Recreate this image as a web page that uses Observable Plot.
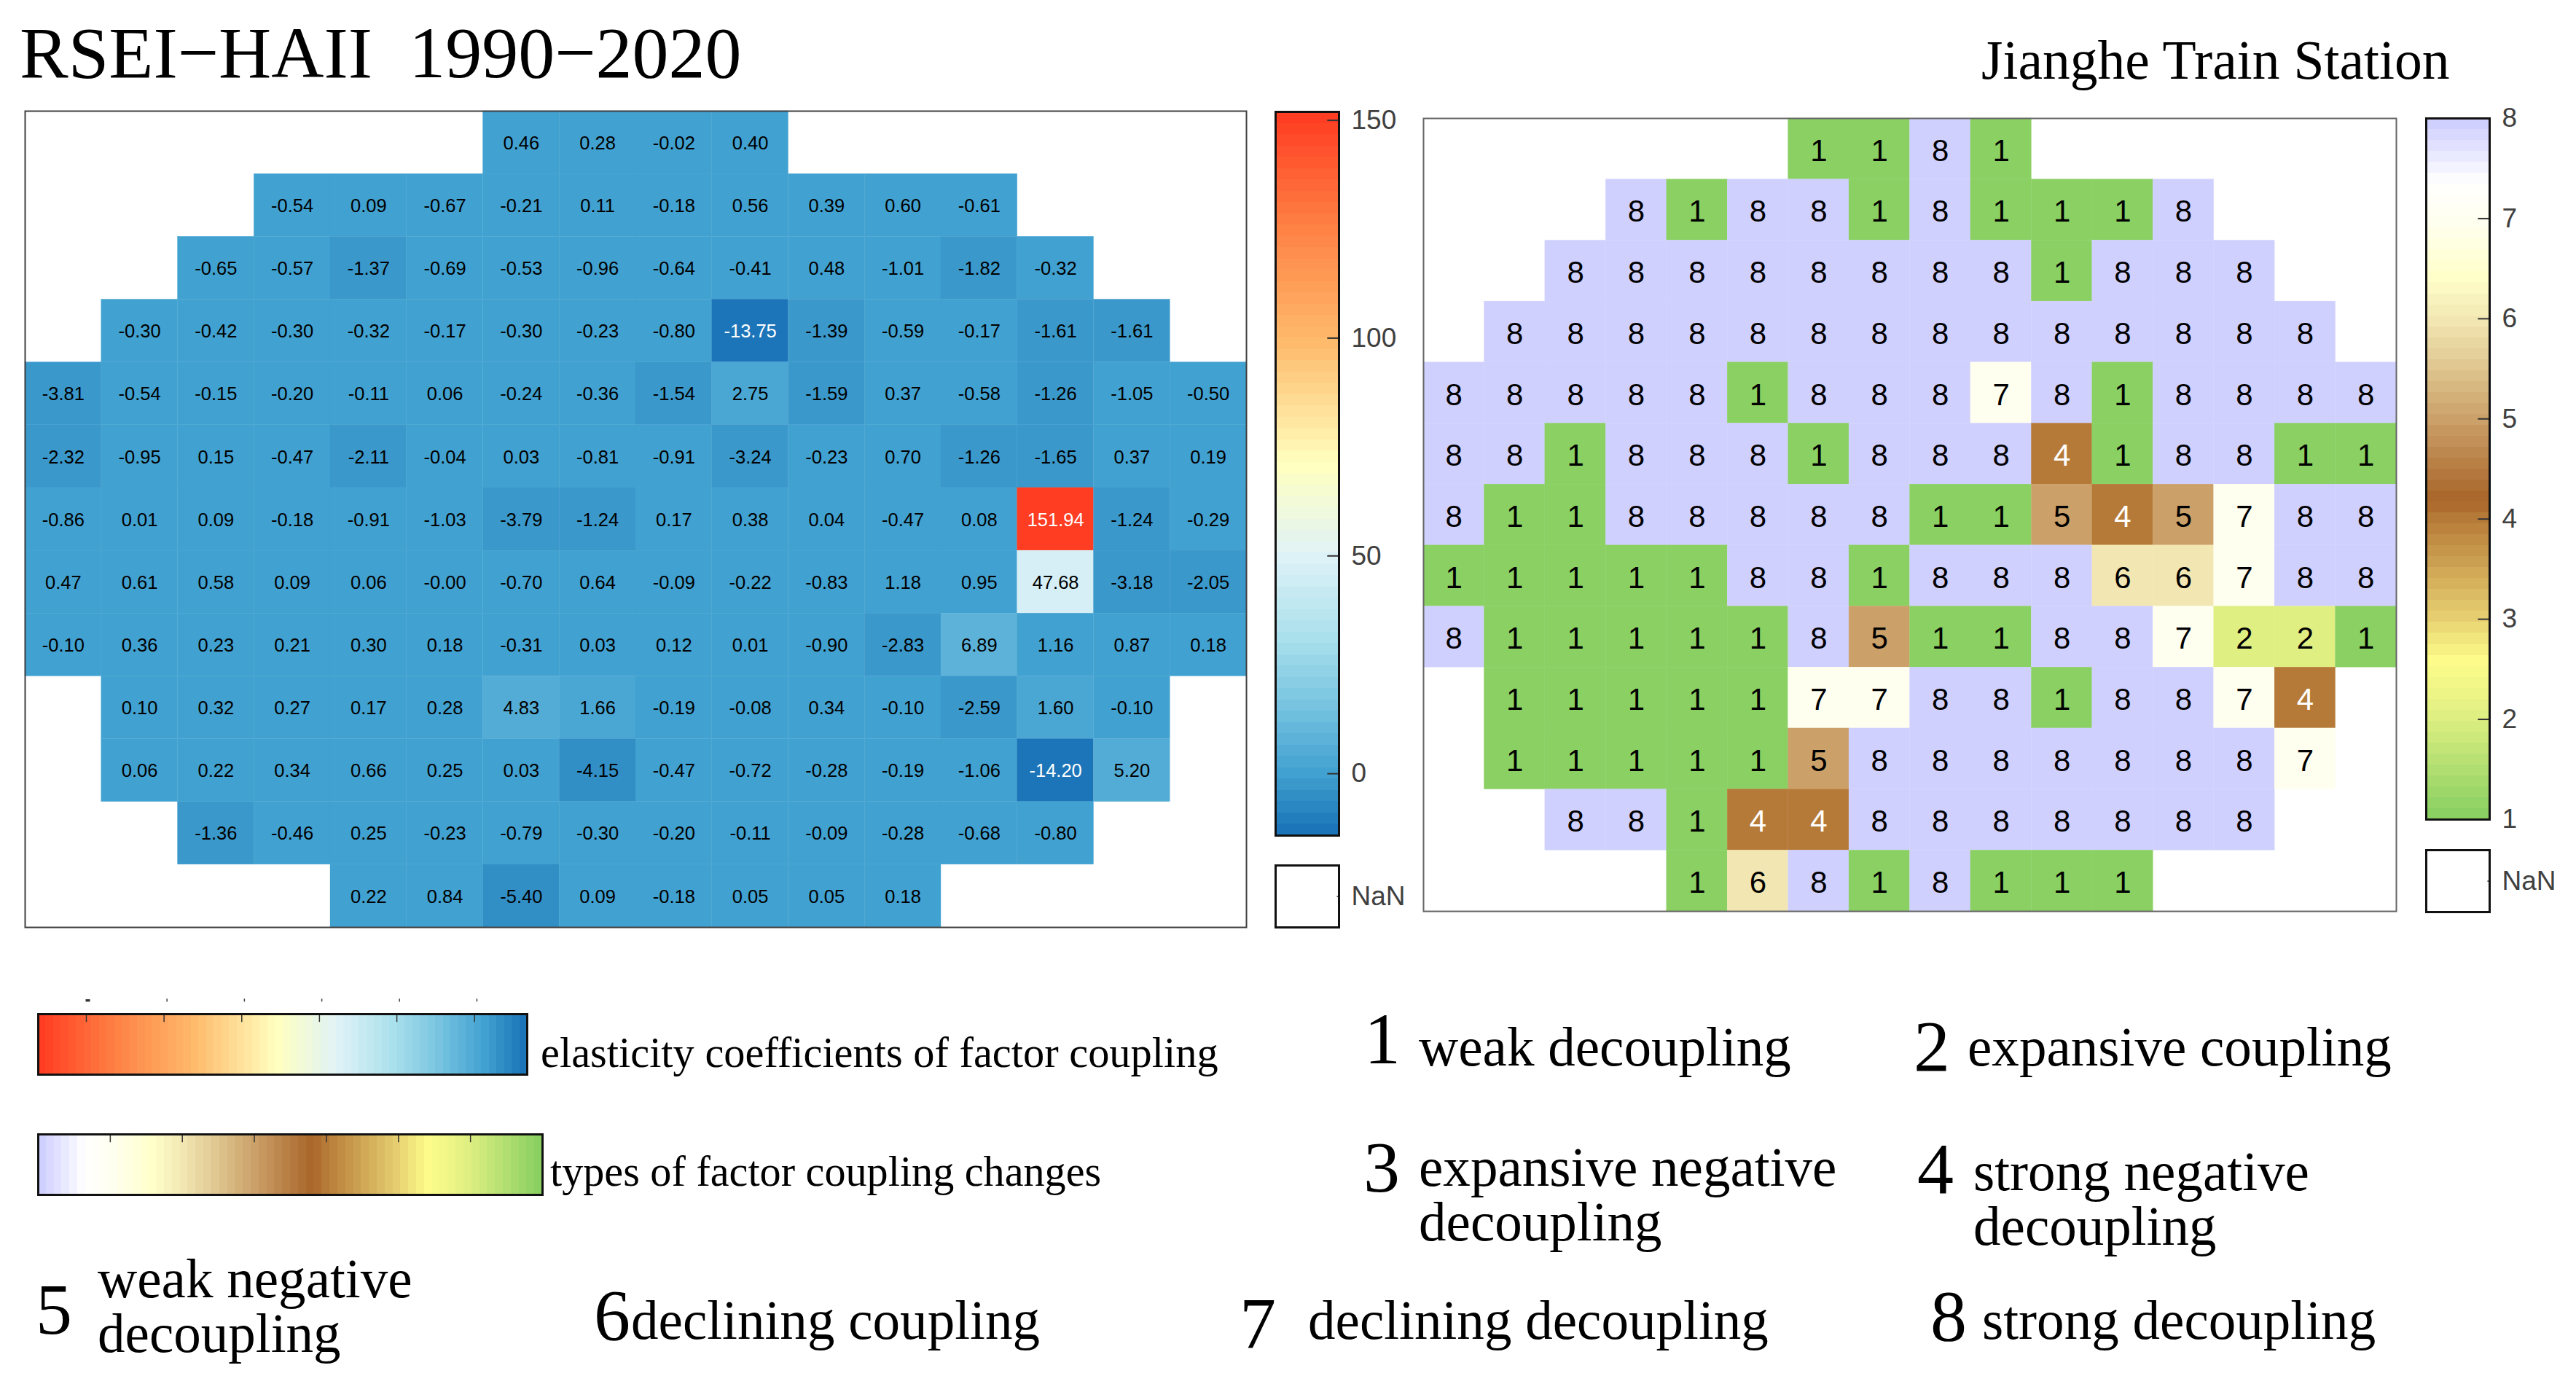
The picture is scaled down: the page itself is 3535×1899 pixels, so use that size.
<!DOCTYPE html>
<html>
<head>
<meta charset="utf-8">
<script src="https://cdn.jsdelivr.net/npm/d3@7"></script>
<script src="https://cdn.jsdelivr.net/npm/@observablehq/plot@0.6"></script>
<style>
html,body{margin:0;padding:0;background:#fff}
#page{position:relative;width:3535px;height:1899px;overflow:hidden;background:#fff}
#page svg{position:absolute;max-width:none;background:transparent}
.t{position:absolute;white-space:pre;line-height:1;color:#000;font-family:"Liberation Serif",serif}
</style>
</head>
<body>
<div id="page"></div>
<script>
// ---------- data ----------
const rowStart = [6, 3, 2, 1, 0, 0, 0, 0, 0, 1, 1, 2, 4];

const elasticity = [
  [0.46, 0.28, -0.02, 0.40],
  [-0.54, 0.09, -0.67, -0.21, 0.11, -0.18, 0.56, 0.39, 0.60, -0.61],
  [-0.65, -0.57, -1.37, -0.69, -0.53, -0.96, -0.64, -0.41, 0.48, -1.01, -1.82, -0.32],
  [-0.30, -0.42, -0.30, -0.32, -0.17, -0.30, -0.23, -0.80, -13.75, -1.39, -0.59, -0.17, -1.61, -1.61],
  [-3.81, -0.54, -0.15, -0.20, -0.11, 0.06, -0.24, -0.36, -1.54, 2.75, -1.59, 0.37, -0.58, -1.26, -1.05, -0.50],
  [-2.32, -0.95, 0.15, -0.47, -2.11, -0.04, 0.03, -0.81, -0.91, -3.24, -0.23, 0.70, -1.26, -1.65, 0.37, 0.19],
  [-0.86, 0.01, 0.09, -0.18, -0.91, -1.03, -3.79, -1.24, 0.17, 0.38, 0.04, -0.47, 0.08, 151.94, -1.24, -0.29],
  [0.47, 0.61, 0.58, 0.09, 0.06, -0.004, -0.70, 0.64, -0.09, -0.22, -0.83, 1.18, 0.95, 47.68, -3.18, -2.05],
  [-0.10, 0.36, 0.23, 0.21, 0.30, 0.18, -0.31, 0.03, 0.12, 0.01, -0.90, -2.83, 6.89, 1.16, 0.87, 0.18],
  [0.10, 0.32, 0.27, 0.17, 0.28, 4.83, 1.66, -0.19, -0.08, 0.34, -0.10, -2.59, 1.60, -0.10],
  [0.06, 0.22, 0.34, 0.66, 0.25, 0.03, -4.15, -0.47, -0.72, -0.28, -0.19, -1.06, -14.20, 5.20],
  [-1.36, -0.46, 0.25, -0.23, -0.79, -0.30, -0.20, -0.11, -0.09, -0.28, -0.68, -0.80],
  [0.22, 0.84, -5.40, 0.09, -0.18, 0.05, 0.05, 0.18]
];

const couplingType = [
  [1, 1, 8, 1],
  [8, 1, 8, 8, 1, 8, 1, 1, 1, 8],
  [8, 8, 8, 8, 8, 8, 8, 8, 1, 8, 8, 8],
  [8, 8, 8, 8, 8, 8, 8, 8, 8, 8, 8, 8, 8, 8],
  [8, 8, 8, 8, 8, 1, 8, 8, 8, 7, 8, 1, 8, 8, 8, 8],
  [8, 8, 1, 8, 8, 8, 1, 8, 8, 8, 4, 1, 8, 8, 1, 1],
  [8, 1, 1, 8, 8, 8, 8, 8, 1, 1, 5, 4, 5, 7, 8, 8],
  [1, 1, 1, 1, 1, 8, 8, 1, 8, 8, 8, 6, 6, 7, 8, 8],
  [8, 1, 1, 1, 1, 1, 8, 5, 1, 1, 8, 8, 7, 2, 2, 1],
  [1, 1, 1, 1, 1, 7, 7, 8, 8, 1, 8, 8, 7, 4],
  [1, 1, 1, 1, 1, 5, 8, 8, 8, 8, 8, 8, 8, 7],
  [8, 8, 1, 4, 4, 8, 8, 8, 8, 8, 8, 8],
  [1, 6, 8, 1, 8, 1, 1, 1]
];

const elasticityStopValues = [-14.2, -1, 17, 30, 50, 71, 100, 125, 151.94];
const elasticityStopColors = ["#1c75b8", "#41a1d0", "#7fc8e2", "#a8dfeb", "#e0f3f8", "#ffffbf", "#feb96a", "#fe8446", "#ff3d22"];
const elasticityTicks = [0, 50, 100, 150];
const elasticityBarTicks = [135.6, 109.2, 82.8, 56.4, 30.1, 3.7];
const elasticityStrayTicks = [108.2, 81.9, 55.6, 29.2, 2.9];
const elasticityStrayBlob = [135.1];

const typeStopValues = [1, 2, 2.55, 3, 4, 4.18, 5, 6, 6.45, 7, 7.4, 8];
const typeStopColors = ["#8ad062", "#e0ef82", "#fdfd8a", "#e6ce70", "#b67a38", "#a96529", "#cba069", "#f2e7b2", "#ffffca", "#fffff0", "#ffffff", "#d0d0ff"];
const typeTicks = [1, 2, 3, 4, 5, 6, 7, 8];
const typeBarTicks = [7, 6, 5, 4, 3, 2];

const titleText = "RSEI\u2212HAII  1990\u22122020";
const stationText = "Jianghe Train Station";
const barCaptions = ["elasticity coefficients of factor coupling", "types of factor coupling changes"];
const typeNumbers = ["1", "2", "3", "4", "5", "6", "7", "8"];
const typeNames = [
  ["weak decoupling"],
  ["expansive coupling"],
  ["expansive negative", "decoupling"],
  ["strong negative", "decoupling"],
  ["weak negative", "decoupling"],
  ["declining coupling"],
  ["declining decoupling"],
  ["strong decoupling"]
];

// ---------- helpers ----------
const LEVELS = 64;
const SANS = "Liberation Sans, Arial, sans-serif";
const page = document.getElementById("page");

function place(svg, x, y) {
  svg.style.left = x + "px";
  svg.style.top = y + "px";
  page.appendChild(svg);
}
function flatten(rows) {
  return rows.flatMap((row, r) => row.map((v, i) => ({col: rowStart[r] + i, row: r, v})));
}
function levelScale(stopValues, stopColors) {
  const min = stopValues[0], max = stopValues[stopValues.length - 1];
  const ramp = d3.scaleLinear(stopValues, stopColors);
  const step = (max - min) / LEVELS;
  const levels = d3.range(LEVELS).map(i => ({lo: min + i * step, hi: min + (i + 1) * step, mid: min + (i + 0.5) * step}));
  return {
    min, max, levels,
    color: {
      type: "threshold",
      domain: d3.range(1, LEVELS).map(i => min + i * step),
      range: d3.range(LEVELS).map(i => ramp(min + i / (LEVELS - 1) * (max - min)))
    }
  };
}
const M = 3;
const VM = 30;

function heatmap(rows, scale, box, o) {
  const data = flatten(rows);
  const svg = Plot.plot({
    width: box.w + 2 * M, height: box.h + 2 * M, margin: M,
    style: {fontFamily: SANS},
    x: {type: "band", domain: d3.range(16), padding: 0, round: false, axis: null},
    y: {type: "band", domain: d3.range(13), padding: 0, round: false, axis: null},
    color: scale.color,
    marks: [
      Plot.cell(data, {x: "col", y: "row", fill: "v", stroke: "v", strokeWidth: 0.3}),
      Plot.text(data.filter(d => !o.light(d.v)), {x: "col", y: "row", text: o.format, fill: "black", fontSize: o.fontSize, dy: o.dy}),
      Plot.text(data.filter(d => o.light(d.v)), {x: "col", y: "row", text: o.format, fill: "white", fontSize: o.fontSize, dy: o.dy}),
      Plot.frame({stroke: o.frame, strokeWidth: 2})
    ]
  });
  place(svg, box.x - M, box.y - M);
}

function verticalBar(scale, ticks, box, nanBox) {
  const svg = Plot.plot({
    width: box.w + M + 110, height: box.h + 2 * VM,
    marginLeft: M, marginRight: 110, marginTop: VM, marginBottom: VM,
    style: {fontFamily: SANS},
    x: {domain: [0, 1], axis: null},
    y: {domain: [scale.min, scale.max]},
    color: scale.color,
    marks: [
      Plot.rect(scale.levels, {x1: () => 0, x2: () => 1, y1: "lo", y2: "hi", fill: "mid", shapeRendering: "crispEdges"}),
      Plot.ruleY(ticks.filter(t => t > scale.min && t < scale.max), {x1: () => 0.82, x2: () => 1, stroke: "#333", strokeWidth: 2}),
      Plot.frame({stroke: "#111", strokeWidth: 3}),
      Plot.axisY({anchor: "right", ticks, tickSize: 0, tickPadding: 17, label: null, fontSize: 37, color: "#404040", tickFormat: d => String(d)})
    ]
  });
  place(svg, box.x - M, box.y - VM);

  const nan = Plot.plot({
    width: nanBox.w + M + 110, height: nanBox.h + 2 * M,
    marginLeft: M, marginRight: 110, marginTop: M, marginBottom: M,
    style: {fontFamily: SANS},
    x: {domain: [0, 1], axis: null},
    y: {domain: [0, 1], axis: null},
    marks: [
      Plot.ruleY([0.5], {x1: () => 0.97, x2: () => 1, stroke: "#333", strokeWidth: 1.5}),
      Plot.frame({stroke: "#111", strokeWidth: 3}),
      Plot.text(["NaN"], {x: () => 1, y: () => 0.5, dx: 17, textAnchor: "start", fontSize: 37, fill: "#404040"})
    ]
  });
  place(nan, nanBox.x - M, nanBox.y - M);
}

function horizontalBar(scale, ticks, box, stray, blob) {
  const top = 26;
  const svg = Plot.plot({
    width: box.w + 2 * M, height: box.h + top + M,
    marginLeft: M, marginRight: M, marginTop: top, marginBottom: M,
    style: {fontFamily: SANS},
    x: {domain: [scale.max, scale.min], axis: null},
    y: {domain: [0, 1], axis: null},
    color: scale.color,
    marks: [
      Plot.rect(scale.levels, {x1: "lo", x2: "hi", y1: () => 0, y2: () => 1, fill: "mid", shapeRendering: "crispEdges"}),
      Plot.ruleX(ticks, {y1: () => 0.865, y2: () => 1, stroke: "#333", strokeWidth: 1.5}),
      Plot.ruleX(stray, {y1: () => 1.2, y2: () => 1.25, stroke: "#444", strokeWidth: 1.5}),
      Plot.ruleX(blob, {y1: () => 1.2, y2: () => 1.24, stroke: "#333", strokeWidth: 6}),
      Plot.frame({stroke: "#111", strokeWidth: 3})
    ]
  });
  place(svg, box.x - M, box.y - top);
}

function label(text, x, baseline, size) {
  const el = document.createElement("div");
  el.className = "t";
  el.textContent = text;
  el.style.left = x + "px";
  el.style.top = (baseline - 0.8375 * size) + "px";
  el.style.fontSize = size + "px";
  page.appendChild(el);
}

// ---------- draw ----------
const elasticityScale = levelScale(elasticityStopValues, elasticityStopColors);
const typeScale = levelScale(typeStopValues, typeStopColors);

heatmap(elasticity, elasticityScale, {x: 34, y: 152, w: 1676, h: 1120}, {
  format: d => d.v.toFixed(2), light: v => v < -10 || v > 100, fontSize: 25.5, dy: 1, frame: "#404040"
});
heatmap(couplingType, typeScale, {x: 1953, y: 162, w: 1335, h: 1088}, {
  format: d => String(d.v), light: v => v === 4, fontSize: 42, dy: 3, frame: "#666"
});

verticalBar(elasticityScale, elasticityTicks, {x: 1750, y: 153, w: 87, h: 993}, {x: 1750, y: 1187, w: 87, h: 85});
verticalBar(typeScale, typeTicks, {x: 3329, y: 162, w: 87, h: 962}, {x: 3329, y: 1166, w: 87, h: 85});

horizontalBar(elasticityScale, elasticityBarTicks, {x: 52, y: 1391, w: 671, h: 83}, elasticityStrayTicks, elasticityStrayBlob);
horizontalBar(typeScale, typeBarTicks, {x: 52, y: 1556, w: 692, h: 83}, [], []);

label(titleText, 27, 107, 100);
label(stationText, 2719, 108, 75.6);
label(barCaptions[0], 742, 1465, 58.4);
label(barCaptions[1], 755, 1628, 58.2);

const numberAt = [[1872, 1460], [2626, 1470], [1871, 1636], [2631, 1638], [49, 1831], [815, 1839], [1701, 1850], [2649, 1840]];
const nameAt = [
  [[1947, 1462]], [[2700, 1462]],
  [[1947, 1627], [1947, 1702]], [[2708, 1633], [2708, 1708]],
  [[134, 1780], [134, 1855]], [[866, 1837]],
  [[1795, 1837]], [[2720, 1837]]
];
typeNumbers.forEach((n, i) => {
  label(n, numberAt[i][0], numberAt[i][1], 100);
  typeNames[i].forEach((line, j) => label(line, nameAt[i][j][0], nameAt[i][j][1], 75.1));
});
</script>
</body>
</html>
